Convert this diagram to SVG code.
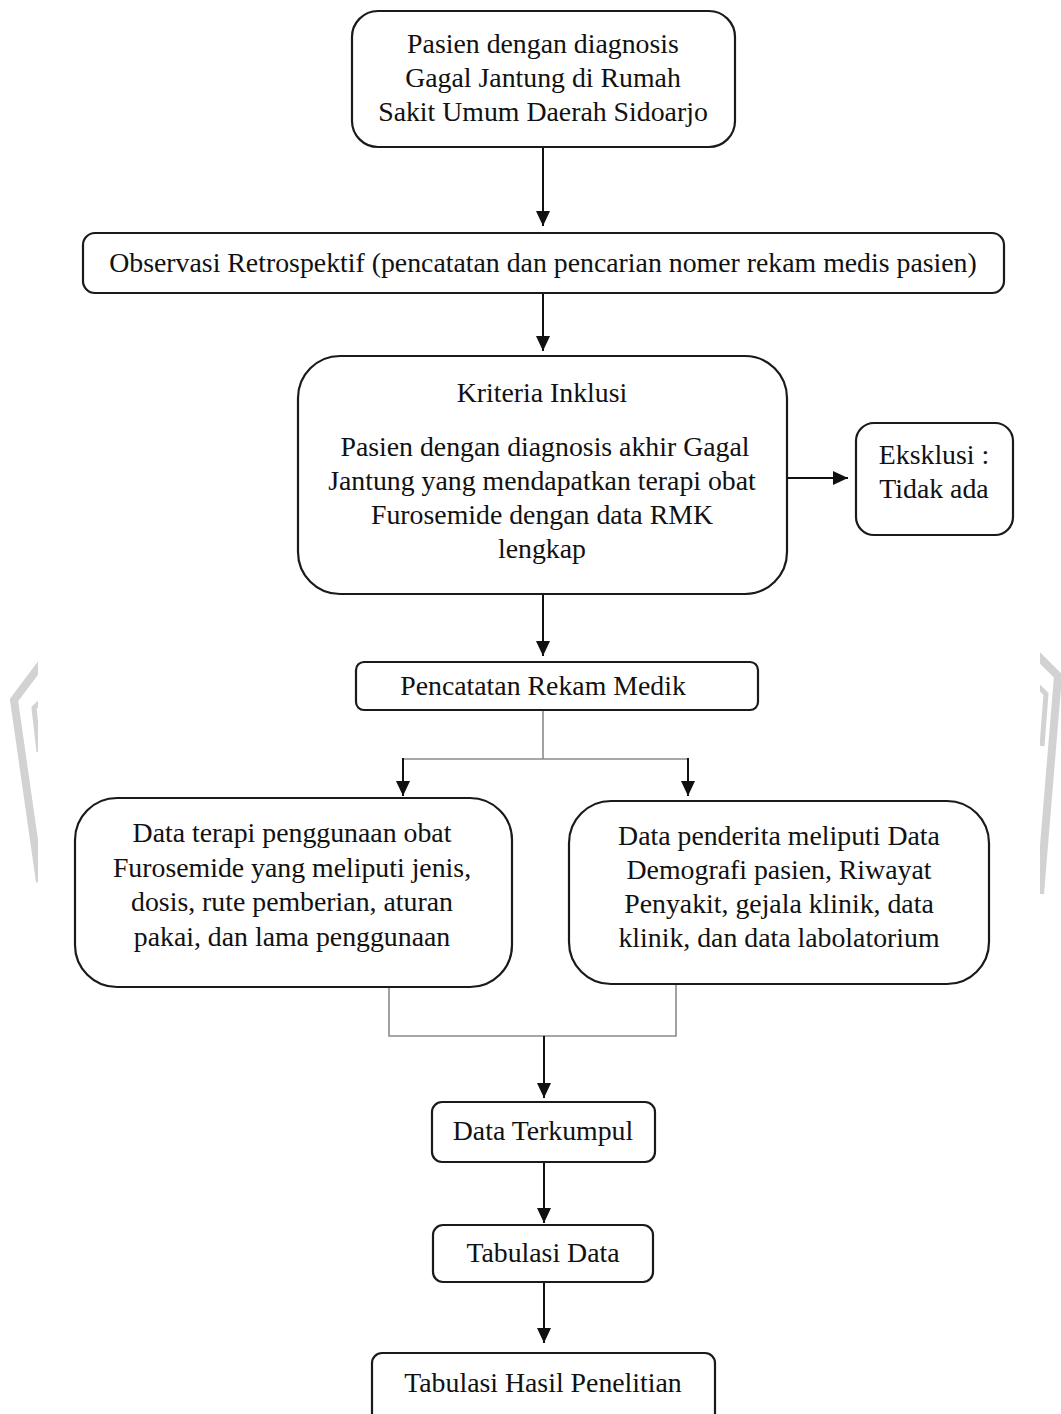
<svg xmlns="http://www.w3.org/2000/svg" width="1061" height="1414" viewBox="0 0 1061 1414">
<style>
  .box { fill: #fff; stroke: #1a1a1a; stroke-width: 2.2; }
  .t { font-family: "Liberation Serif", "Times New Roman", serif; font-size: 27.8px; fill: #111; text-anchor: middle; }
  .arr { stroke: #111; stroke-width: 2; fill: none; }
  .ln { stroke: #8a8a8a; stroke-width: 1.6; fill: none; }
  .wm { stroke: #d2d2d2; fill: none; stroke-linejoin: miter; }
</style>
<defs>
  <marker id="ah" markerWidth="16" markerHeight="16" refX="15" refY="8" orient="auto" markerUnits="userSpaceOnUse">
    <path d="M0,1 L15,8 L0,15 Z" fill="#111"/>
  </marker>
  <clipPath id="cl"><rect x="0" y="600" width="38" height="320"/></clipPath>
  <clipPath id="cr"><rect x="1040" y="600" width="21" height="320"/></clipPath>
</defs>
<rect width="1061" height="1414" fill="#fff"/>
<g id="watermark">
  <g clip-path="url(#cl)">
    <polyline class="wm" stroke-width="8" points="44,660 14,700 40,882"/>
    <polyline class="wm" stroke-width="5" points="42,700 34,708 39,752"/>
  </g>
  <g clip-path="url(#cr)">
    <polyline class="wm" stroke-width="8" points="1034,652 1058,676 1040,894"/>
    <polyline class="wm" stroke-width="5" points="1037,685 1046,694 1042,746"/>
  </g>
</g>
<g id="connectors">
  <line class="arr" x1="543" y1="148" x2="543" y2="226" marker-end="url(#ah)"/>
  <line class="arr" x1="543" y1="294" x2="543" y2="351" marker-end="url(#ah)"/>
  <line class="arr" x1="543" y1="595" x2="543" y2="656" marker-end="url(#ah)"/>
  <line class="arr" x1="787" y1="478" x2="848" y2="478" marker-end="url(#ah)"/>
  <polyline class="ln" points="543,710 543,759"/>
  <line class="ln" x1="402" y1="759" x2="689" y2="759"/>
  <line class="arr" x1="403" y1="758" x2="403" y2="796" marker-end="url(#ah)"/>
  <line class="arr" x1="688" y1="758" x2="688" y2="796" marker-end="url(#ah)"/>
  <polyline class="ln" points="389,988 389,1036 676,1036 676,985"/>
  <line class="arr" x1="544" y1="1036" x2="544" y2="1098" marker-end="url(#ah)"/>
  <line class="arr" x1="544" y1="1162" x2="544" y2="1223" marker-end="url(#ah)"/>
  <line class="arr" x1="544" y1="1282" x2="544" y2="1343" marker-end="url(#ah)"/>
</g>
<g id="n1">
  <rect class="box" x="352" y="11" width="383" height="136" rx="26"/>
  <text class="t" x="543" y="53">Pasien dengan diagnosis</text>
  <text class="t" x="543" y="87">Gagal Jantung di Rumah</text>
  <text class="t" x="543" y="121">Sakit Umum Daerah Sidoarjo</text>
</g>
<g id="n2">
  <rect class="box" x="83" y="233" width="921" height="60" rx="12"/>
  <text class="t" x="543" y="272">Observasi Retrospektif (pencatatan dan pencarian nomer rekam medis pasien)</text>
</g>
<g id="n3">
  <rect class="box" x="298" y="356" width="489" height="238" rx="42"/>
  <text class="t" x="542" y="402">Kriteria Inklusi</text>
  <text class="t" x="545" y="456">Pasien dengan diagnosis akhir Gagal</text>
  <text class="t" x="542" y="490">Jantung yang mendapatkan terapi obat</text>
  <text class="t" x="542" y="524">Furosemide dengan data RMK</text>
  <text class="t" x="542" y="558">lengkap</text>
</g>
<g id="n4">
  <rect class="box" x="856" y="423" width="157" height="112" rx="18"/>
  <text class="t" x="934" y="464">Eksklusi :</text>
  <text class="t" x="934" y="498">Tidak ada</text>
</g>
<g id="n5">
  <rect class="box" x="356" y="662" width="402" height="48" rx="8"/>
  <text class="t" x="543" y="695">Pencatatan Rekam Medik</text>
</g>
<g id="n6">
  <rect class="box" x="75" y="798" width="437" height="189" rx="42"/>
  <text class="t" x="292" y="842">Data terapi penggunaan obat</text>
  <text class="t" x="292" y="877">Furosemide yang meliputi jenis,</text>
  <text class="t" x="292" y="911">dosis, rute pemberian, aturan</text>
  <text class="t" x="292" y="946">pakai, dan lama penggunaan</text>
</g>
<g id="n7">
  <rect class="box" x="569" y="801" width="420" height="183" rx="42"/>
  <text class="t" x="779" y="845">Data penderita meliputi Data</text>
  <text class="t" x="779" y="879">Demografi pasien, Riwayat</text>
  <text class="t" x="779" y="913">Penyakit, gejala klinik, data</text>
  <text class="t" x="779" y="947">klinik, dan data labolatorium</text>
</g>
<g id="n8">
  <rect class="box" x="432" y="1102" width="223" height="60" rx="10"/>
  <text class="t" x="543" y="1140">Data Terkumpul</text>
</g>
<g id="n9">
  <rect class="box" x="433" y="1225" width="220" height="57" rx="10"/>
  <text class="t" x="543" y="1262">Tabulasi Data</text>
</g>
<g id="n10">
  <rect class="box" x="372" y="1353" width="343" height="80" rx="10"/>
  <text class="t" x="543" y="1392">Tabulasi Hasil Penelitian</text>
</g>
</svg>
